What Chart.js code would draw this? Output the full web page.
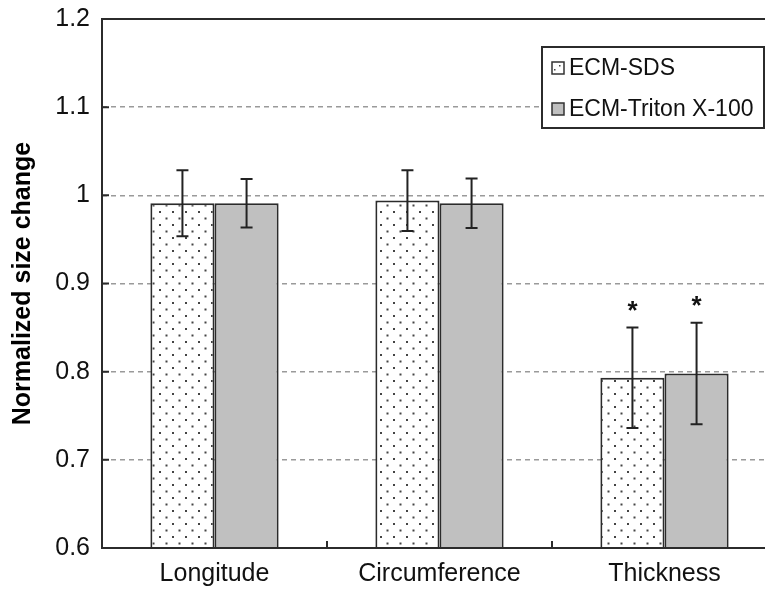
<!DOCTYPE html>
<html>
<head>
<meta charset="utf-8">
<script src="https://cdn.jsdelivr.net/npm/chart.js@4"></script>
<style>
  html, body { margin: 0; padding: 0; background: #fff; overflow: hidden; }
  #wrap { width: 765px; height: 591px; overflow: hidden; }
</style>
</head>
<body>
<div id="wrap"><canvas id="bar-chart" width="790" height="591"></canvas></div>
<script>
const categories = ["Longitude", "Circumference", "Thickness"];
const seriesNames = ["ECM-SDS", "ECM-Triton X-100"];
const sdsMean = [0.991, 0.994, 0.793];
const sdsSD = [0.0375, 0.0345, 0.057];
const tritonMean = [0.991, 0.991, 0.798];
const tritonSD = [0.0275, 0.028, 0.0575];
const sdsMarks = ["", "", "*"];
const tritonMarks = ["", "", "*"];
const yTicks = [0.6, 0.7, 0.8, 0.9, 1.0, 1.1, 1.2];

const FONT = "Arial, 'Liberation Sans', sans-serif";
const INK = "#2b2b2b";

// dotted fill like the old excel pattern
function makeDots() {
  const c = document.createElement("canvas");
  c.width = 13;
  c.height = 13;
  const g = c.getContext("2d");
  g.fillStyle = "#fff";
  g.fillRect(0, 0, 13, 13);
  g.fillStyle = "#444";
  g.fillRect(3, 3, 2, 2);
  g.fillRect(9.5, 9.5, 2, 2);
  return g.createPattern(c, "repeat");
}
const dots = makeDots();

const errorBars = {
  id: "errorBars",
  afterDatasetsDraw(chart) {
    const ctx = chart.ctx;
    const y = chart.scales.y;
    ctx.save();
    ctx.strokeStyle = "#222";
    ctx.lineWidth = 2;
    ctx.fillStyle = "#111";
    ctx.font = "bold 26px " + FONT;
    ctx.textAlign = "center";
    ctx.textBaseline = "middle";
    chart.data.datasets.forEach((ds, i) => {
      const meta = chart.getDatasetMeta(i);
      meta.data.forEach((bar, j) => {
        const top = y.getPixelForValue(ds.data[j] + ds.sd[j]);
        const bot = y.getPixelForValue(ds.data[j] - ds.sd[j]);
        ctx.beginPath();
        ctx.moveTo(bar.x, top);
        ctx.lineTo(bar.x, bot);
        ctx.moveTo(bar.x - 6, top);
        ctx.lineTo(bar.x + 6, top);
        ctx.moveTo(bar.x - 6, bot);
        ctx.lineTo(bar.x + 6, bot);
        ctx.stroke();
        if (ds.marks[j]) {
          ctx.fillText(ds.marks[j], bar.x, top - 16);
        }
      });
    });
    ctx.restore();
  },
};

const frame = {
  id: "frame",
  afterDraw(chart) {
    const ctx = chart.ctx;
    const a = chart.chartArea;
    const x = chart.scales.x;
    const y = chart.scales.y;
    ctx.save();
    ctx.strokeStyle = INK;
    ctx.lineWidth = 2;
    ctx.strokeRect(a.left, a.top, a.right - a.left, a.bottom - a.top);
    // inside tick marks
    ctx.beginPath();
    yTicks.forEach((v) => {
      const py = y.getPixelForValue(v);
      ctx.moveTo(a.left, py);
      ctx.lineTo(a.left + 7, py);
    });
    for (let i = 1; i < categories.length; i++) {
      const px = (x.getPixelForValue(i - 1) + x.getPixelForValue(i)) / 2;
      ctx.moveTo(px, a.bottom);
      ctx.lineTo(px, a.bottom - 7);
    }
    ctx.stroke();

    // legend box
    const lx = 542, ly = 47, lw = 222, lh = 81;
    ctx.fillStyle = "#fff";
    ctx.fillRect(lx, ly, lw, lh);
    ctx.strokeRect(lx, ly, lw, lh);
    ctx.font = "23px " + FONT;
    ctx.textBaseline = "middle";
    ctx.lineWidth = 1.5;
    const fills = [null, "#c0c0c0"];
    seriesNames.forEach((name, i) => {
      const cy = ly + 21 + i * 41;
      ctx.fillStyle = fills[i] || "#fff";
      ctx.fillRect(552, cy - 6, 12, 12);
      if (!fills[i]) {
        ctx.fillStyle = "#444";
        ctx.fillRect(554, cy + 1, 1.5, 1.5);
        ctx.fillRect(559, cy - 3, 1.5, 1.5);
      }
      ctx.strokeStyle = "#333";
      ctx.strokeRect(552, cy - 6, 12, 12);
      ctx.fillStyle = "#111";
      ctx.fillText(name, 569, cy + 1);
    });
    ctx.restore();
  },
};

new Chart(document.getElementById("bar-chart"), {
  type: "bar",
  data: {
    labels: categories,
    datasets: [
      {
        label: seriesNames[0],
        data: sdsMean,
        sd: sdsSD,
        marks: sdsMarks,
        backgroundColor: dots,
        borderColor: INK,
        borderWidth: 2,
      },
      {
        label: seriesNames[1],
        data: tritonMean,
        sd: tritonSD,
        marks: tritonMarks,
        backgroundColor: "#c0c0c0",
        borderColor: INK,
        borderWidth: 2,
      },
    ],
  },
  options: {
    responsive: false,
    animation: false,
    layout: { padding: { top: 19, right: 13, left: 0, bottom: 0 } },
    categoryPercentage: 0.57,
    barPercentage: 1,
    plugins: {
      legend: { display: false },
      tooltip: { enabled: false },
    },
    scales: {
      x: {
        grid: { display: false, drawTicks: false },
        border: { display: false },
        ticks: {
          color: "#111",
          font: { family: FONT, size: 25 },
          padding: 11,
        },
        afterFit(scale) {
          scale.height = 43;
        },
      },
      y: {
        min: 0.6,
        max: 1.2,
        border: { display: false, dash: [5, 4] },
        grid: {
          drawTicks: false,
          color: (c) => (c.tick && (c.tick.value <= 0.6 || c.tick.value >= 1.2) ? "rgba(0,0,0,0)" : "#9a9a9a"),
          lineWidth: 1.5,
        },
        afterBuildTicks(scale) {
          scale.ticks = yTicks.map((v) => ({ value: v }));
        },
        ticks: {
          color: "#111",
          font: { family: FONT, size: 25 },
          padding: 12,
          callback: (v) => String(Math.round(v * 10) / 10),
        },
        title: {
          display: true,
          text: "Normalized size change",
          color: "#000",
          font: { family: FONT, size: 25, weight: "bold" },
          padding: { top: 8, bottom: 0 },
        },
        afterFit(scale) {
          scale.width = 102;
          scale.paddingTop = 0;
          scale.paddingBottom = 0;
        },
      },
    },
  },
  plugins: [errorBars, frame],
});
</script>
</body>
</html>
